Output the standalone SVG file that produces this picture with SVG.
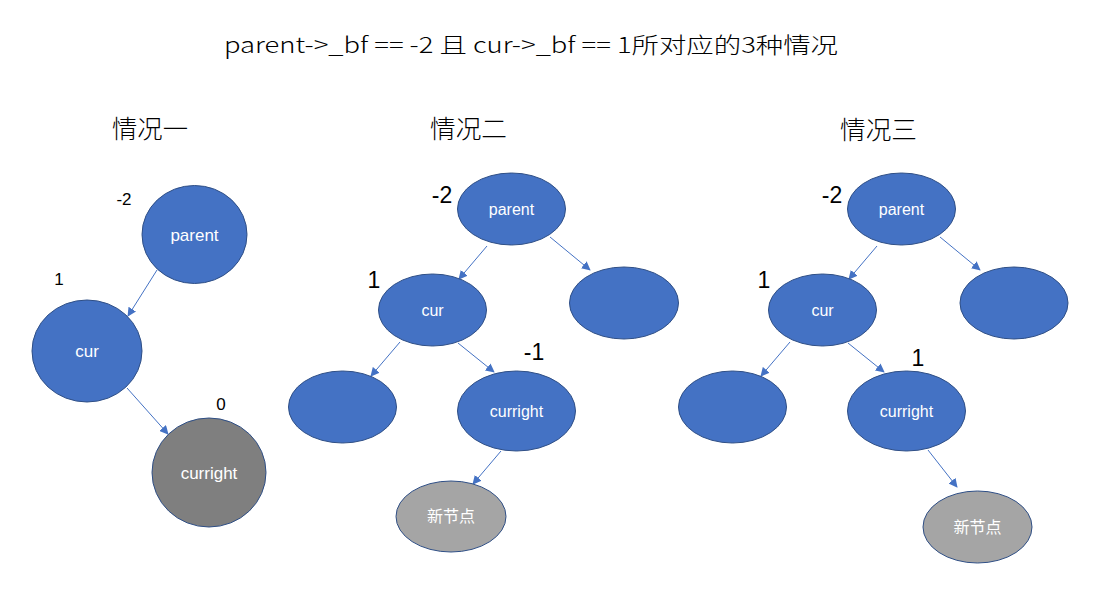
<svg xmlns="http://www.w3.org/2000/svg" width="1093" height="590" viewBox="0 0 1093 590">
<defs>
<marker id="ah" viewBox="0 0 10 10" refX="9" refY="5" markerWidth="9" markerHeight="9" markerUnits="userSpaceOnUse" orient="auto">
<path d="M0,0 L10,5 L0,10 z" fill="#4472c4"/>
</marker>
<style>
.n{fill:#4472c4;stroke:#2f4f86;stroke-width:1}
.g{fill:#7f7f7f;stroke:#2f4f86;stroke-width:1}
.l{fill:#a5a5a5;stroke:#2f4f86;stroke-width:1}
.t{font-family:"Liberation Sans","Noto Sans CJK SC",sans-serif;fill:#fff;text-anchor:middle}
.c{font-family:"Noto Sans CJK SC",sans-serif;fill:#fff;text-anchor:middle}
.k{font-family:"Liberation Sans","Noto Sans CJK SC",sans-serif;fill:#000}
.h{font-family:"Noto Sans CJK SC",sans-serif;fill:#000;font-weight:300}
.e{stroke:#4472c4;stroke-width:1;fill:none;marker-end:url(#ah)}
</style>
</defs>
<rect width="1093" height="590" fill="#fff"/>
<text class="h" x="224" y="53" font-size="22" textLength="614" lengthAdjust="spacingAndGlyphs">parent-&gt;_bf == -2 且 cur-&gt;_bf == 1所对应的3种情况</text>
<text class="h" x="112" y="138" font-size="25" textLength="76" lengthAdjust="spacingAndGlyphs">情况一</text>
<text class="h" x="430" y="138" font-size="25" textLength="77" lengthAdjust="spacingAndGlyphs">情况二</text>
<text class="h" x="840" y="139" font-size="25" textLength="77" lengthAdjust="spacingAndGlyphs">情况三</text>

<g id="connectors">
<line class="e" x1="157" y1="270" x2="128" y2="316"/>
<line class="e" x1="127" y1="388" x2="168" y2="434"/>
<line class="e" x1="487" y1="246" x2="459" y2="279"/>
<line class="e" x1="550" y1="237" x2="590" y2="270"/>
<line class="e" x1="400" y1="342" x2="371" y2="376"/>
<line class="e" x1="458" y1="343" x2="494" y2="372"/>
<line class="e" x1="501" y1="451" x2="473" y2="484"/>
<line class="e" x1="877" y1="246" x2="849" y2="279"/>
<line class="e" x1="940" y1="237" x2="980" y2="270"/>
<line class="e" x1="790" y1="342" x2="761" y2="376"/>
<line class="e" x1="848" y1="343" x2="884" y2="372"/>
<line class="e" x1="928" y1="450" x2="957" y2="487"/>
</g>

<g id="c1-parent"><ellipse class="n" cx="194.5" cy="234.5" rx="52.5" ry="49"/><text class="t" x="194.5" y="241" font-size="17">parent</text><text class="k" x="124" y="205" font-size="17" text-anchor="middle">-2</text></g>
<g id="c1-cur"><ellipse class="n" cx="87" cy="351" rx="55" ry="51"/><text class="t" x="87" y="357" font-size="17">cur</text><text class="k" x="59" y="285" font-size="17" text-anchor="middle">1</text></g>
<g id="c1-curright"><ellipse class="g" cx="209" cy="472.5" rx="57" ry="54.5"/><text class="t" x="209" y="479" font-size="17">curright</text><text class="k" x="221" y="410" font-size="17" text-anchor="middle">0</text></g>

<g id="c2-parent"><ellipse class="n" cx="511.5" cy="209" rx="54" ry="36"/><text class="t" x="511.5" y="215" font-size="16">parent</text><text class="k" x="442" y="203" font-size="23" text-anchor="middle">-2</text></g>
<g id="c2-cur"><ellipse class="n" cx="432.5" cy="310" rx="54" ry="36"/><text class="t" x="432.5" y="316" font-size="16">cur</text><text class="k" x="374" y="288" font-size="23" text-anchor="middle">1</text></g>
<g id="c2-right"><ellipse class="n" cx="624" cy="303" rx="54.5" ry="36"/></g>
<g id="c2-left"><ellipse class="n" cx="342.5" cy="407" rx="54" ry="36"/></g>
<g id="c2-curright"><ellipse class="n" cx="516.5" cy="411" rx="59" ry="40"/><text class="t" x="516.5" y="417" font-size="16">curright</text><text class="k" x="534" y="360" font-size="23" text-anchor="middle">-1</text></g>
<g id="c2-new"><ellipse class="l" cx="451" cy="516.5" rx="55" ry="35.5"/><text class="c" x="451" y="522" font-size="16">新节点</text></g>

<g id="c3-parent"><ellipse class="n" cx="901.5" cy="209" rx="54" ry="36"/><text class="t" x="901.5" y="215" font-size="16">parent</text><text class="k" x="832" y="203" font-size="23" text-anchor="middle">-2</text></g>
<g id="c3-cur"><ellipse class="n" cx="822.5" cy="310" rx="54" ry="36"/><text class="t" x="822.5" y="316" font-size="16">cur</text><text class="k" x="764" y="288" font-size="23" text-anchor="middle">1</text></g>
<g id="c3-right"><ellipse class="n" cx="1014" cy="303" rx="54" ry="36"/></g>
<g id="c3-left"><ellipse class="n" cx="732.5" cy="407" rx="54" ry="36"/></g>
<g id="c3-curright"><ellipse class="n" cx="906.5" cy="411" rx="59" ry="40"/><text class="t" x="906.5" y="417" font-size="16">curright</text><text class="k" x="918" y="366" font-size="23" text-anchor="middle">1</text></g>
<g id="c3-new"><ellipse class="l" cx="977.5" cy="527" rx="54.5" ry="36"/><text class="c" x="977.5" y="533" font-size="16">新节点</text></g>
</svg>
